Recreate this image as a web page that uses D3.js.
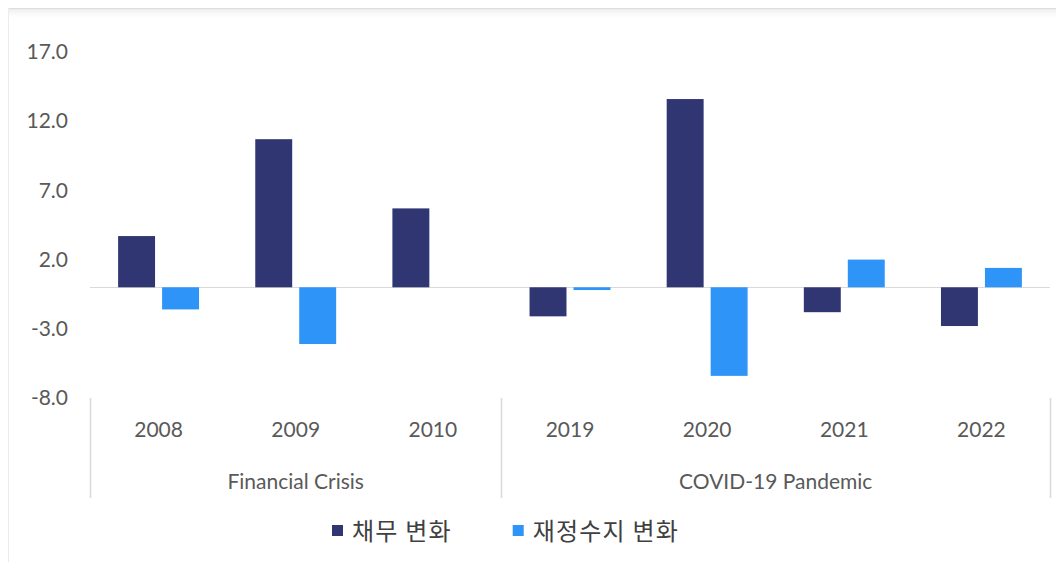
<!DOCTYPE html>
<html>
<head>
<meta charset="utf-8">
<script src="https://cdn.jsdelivr.net/npm/d3@7"></script>
<style>
  html, body { margin: 0; padding: 0; background: #ffffff; }
  svg { display: block; }
</style>
</head>
<body>
<svg id="chart" width="1056" height="562"></svg>
<script>
// Categories (years) and the crisis each belongs to
const years = ["2008", "2009", "2010", "2019", "2020", "2021", "2022"];
const groups = ["Financial Crisis", "Financial Crisis", "Financial Crisis",
                "COVID-19 Pandemic", "COVID-19 Pandemic", "COVID-19 Pandemic", "COVID-19 Pandemic"];

// Series values (%p change)
const debtChange   = [3.7, 10.7, 5.7, -2.1, 13.6, -1.8, -2.8];
const fiscalChange = [-1.6, -4.1, null, -0.2, -6.4, 2.0, 1.4];

// Series names and y tick labels
const seriesNames = ["채무 변화", "재정수지 변화"];
const yTicks = [17.0, 12.0, 7.0, 2.0, -3.0, -8.0];

const colors = ["#2f3672", "#2e94f8"];
const svg = d3.select("#chart");
const W = 1056, H = 562;

// Chart frame: light border with soft shadow on top and left
const defs = svg.append("defs");
const gTop = defs.append("linearGradient").attr("id", "shadeTop").attr("x1", 0).attr("x2", 0).attr("y1", 0).attr("y2", 1);
gTop.append("stop").attr("offset", "0%").attr("stop-color", "#e9e9e9");
gTop.append("stop").attr("offset", "100%").attr("stop-color", "#ffffff").attr("stop-opacity", 0);
svg.append("rect").attr("x", 8).attr("y", 8).attr("width", W - 8).attr("height", 12).attr("fill", "url(#shadeTop)");
svg.append("line").attr("x1", 8).attr("x2", W).attr("y1", 8.5).attr("y2", 8.5)
  .attr("stroke", "#dcdcdc").attr("stroke-width", 1);
svg.append("line").attr("x1", 8.5).attr("x2", 8.5).attr("y1", 8).attr("y2", H)
  .attr("stroke", "#ececec").attr("stroke-width", 1);

// Scales
const x0 = d3.scaleBand().domain(years).range([90, 1050]).paddingInner(0.41).paddingOuter(0.205);
const x1 = d3.scaleBand().domain([0, 1]).range([0, x0.bandwidth()]).paddingInner(0.16);
const y = d3.scaleLinear().domain([-8, 17]).range([398, 52]);

const labelFont = "Lato, 'Open Sans', sans-serif";
const labelColor = "#595959";

// Y axis labels (no axis line, no ticks); plain hyphen for negatives
const yAxis = d3.axisLeft(y).tickValues(yTicks).tickFormat(d => d.toFixed(1)).tickSize(0).tickPadding(0);
const yg = svg.append("g").attr("transform", "translate(68,0)").call(yAxis);
yg.select(".domain").remove();
yg.selectAll("text").attr("font-family", labelFont).attr("font-size", 21).attr("fill", labelColor);

// Zero baseline
svg.append("line")
  .attr("x1", 90).attr("x2", 1050)
  .attr("y1", Math.round(y(0)) + 0.5).attr("y2", Math.round(y(0)) + 0.5)
  .attr("stroke", "#d9d9d9").attr("stroke-width", 1.2);

// Bars
const series = [debtChange, fiscalChange];
series.forEach((vals, si) => {
  svg.append("g").selectAll("rect")
    .data(years.map((yr, i) => ({ yr, v: vals[i] })).filter(d => d.v !== null))
    .join("rect")
    .attr("x", d => x0(d.yr) + x1(si))
    .attr("width", x1.bandwidth())
    .attr("y", d => y(Math.max(0, d.v)))
    .attr("height", d => Math.abs(y(d.v) - y(0)))
    .attr("fill", colors[si]);
});

// Category axis: year labels
const xAxis = d3.axisBottom(x0).tickSize(0).tickPadding(0);
const xg = svg.append("g").attr("transform", "translate(0,424)").call(xAxis);
xg.select(".domain").remove();
xg.selectAll("text").attr("font-family", labelFont).attr("font-size", 21).attr("fill", labelColor)
  .attr("dy", "0.6em");

// Group dividers and group labels
const groupNames = Array.from(new Set(groups));
const bounds = [];
groupNames.forEach(g => {
  const idx = groups.map((gg, i) => gg === g ? i : -1).filter(i => i >= 0);
  const start = x0(years[idx[0]]) - x0.step() * x0.paddingOuter();
  const end = start + idx.length * x0.step();
  bounds.push(start, end);
  svg.append("text")
    .attr("x", (start + end) / 2).attr("y", 482)
    .attr("dy", "0.35em")
    .attr("text-anchor", "middle")
    .attr("font-family", labelFont).attr("font-size", 21).attr("fill", labelColor)
    .text(g);
});
Array.from(new Set(bounds.map(b => Math.round(b)))).forEach(bx => {
  svg.append("line")
    .attr("x1", bx + 0.5).attr("x2", bx + 0.5).attr("y1", 398).attr("y2", 498)
    .attr("stroke", "#d9d9d9").attr("stroke-width", 1.5);
});

// Legend
const legend = svg.append("g");
let lx = 332;
seriesNames.forEach((name, i) => {
  legend.append("rect").attr("x", lx).attr("y", 525).attr("width", 11).attr("height", 11).attr("fill", colors[i]);
  const t = legend.append("text")
    .attr("x", lx + 20).attr("y", 531).attr("dy", "0.36em")
    .attr("font-family", "'Noto Sans CJK KR', sans-serif").attr("font-size", 24)
    .attr("letter-spacing", 1.2)
    .attr("fill", "#404040").text(name);
  lx = lx + 20 + t.node().getComputedTextLength() + 61;
});
</script>
</body>
</html>
